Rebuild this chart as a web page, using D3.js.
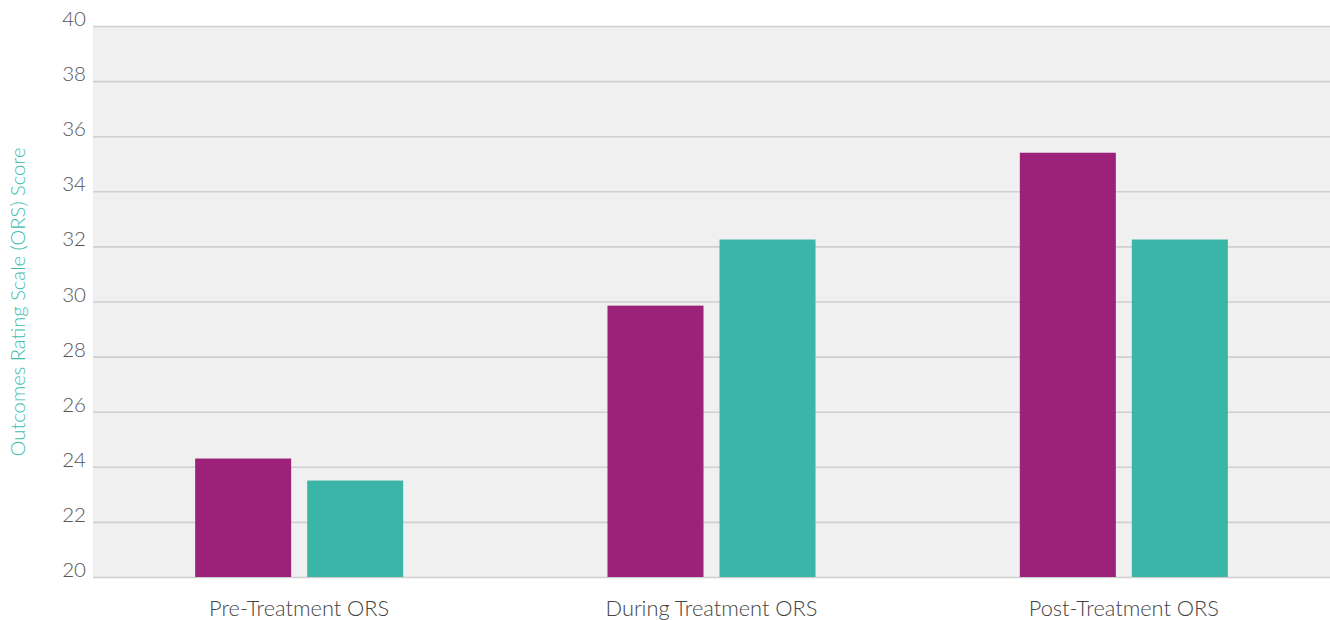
<!DOCTYPE html>
<html>
<head>
<meta charset="utf-8">
<script src="https://cdn.jsdelivr.net/npm/d3@7"></script>
<style>
  html, body { margin: 0; padding: 0; background: #ffffff; }
  svg { display: block; }
</style>
</head>
<body>
<svg id="chart" width="1330" height="620"></svg>
<script>
const categories = ["Pre-Treatment ORS", "During Treatment ORS", "Post-Treatment ORS"];
const seriesNames = ["Series A", "Series B"];
const seriesA = [24.3, 29.85, 35.4];
const seriesB = [23.5, 32.25, 32.25];
const yTicks = [20, 22, 24, 26, 28, 30, 32, 34, 36, 38, 40];
const colors = ["#9c2178", "#3ab5a7"];
const yTitle = "Outcomes Rating Scale (ORS) Score";

const data = categories.map((c, i) => ({ cat: c, values: [seriesA[i], seriesB[i]] }));

const W = 1330, H = 620;
const margin = { left: 93, right: 0, top: 26, bottom: 43 };
const svg = d3.select("#chart");
const fontFam = "Lato, 'Open Sans', sans-serif";

const x0 = d3.scaleBand().domain(categories).range([margin.left, W - margin.right]).paddingInner(0).paddingOuter(0);
const x1 = d3.scaleBand().domain(seriesNames).range([0, x0.bandwidth()]).paddingInner(16 / 112).paddingOuter(0.912);
const y = d3.scaleLinear().domain([20, 40]).range([H - margin.bottom, margin.top]);

// plot background
svg.append("rect")
  .attr("x", margin.left).attr("y", margin.top)
  .attr("width", W - margin.right - margin.left)
  .attr("height", y(20) - margin.top)
  .attr("fill", "#eff0ef");

// gridlines via axis
const yAxis = d3.axisLeft(y).tickValues(yTicks).tickSize(-(W - margin.right - margin.left)).tickPadding(7).tickFormat(d3.format("d"));
const gy = svg.append("g").attr("transform", `translate(${margin.left},0)`).call(yAxis);
gy.select(".domain").remove();
gy.selectAll(".tick line").attr("stroke", "#cfcfcf").attr("stroke-width", 1.6);
gy.selectAll(".tick text")
  .attr("fill", "#555555")
  .attr("font-family", fontFam)
  .attr("font-weight", 300)
  .attr("font-size", 20.5)
  .attr("dy", "-0.02em")
  .attr("x", -7);

// bars
const groups = svg.append("g").selectAll("g").data(data).join("g")
  .attr("transform", d => `translate(${x0(d.cat)},0)`);
groups.selectAll("rect").data(d => d.values.map((v, i) => ({ key: seriesNames[i], v, i })))
  .join("rect")
  .attr("x", d => x1(d.key))
  .attr("width", x1.bandwidth())
  .attr("y", d => y(d.v))
  .attr("height", d => y(20) - y(d.v))
  .attr("fill", d => colors[d.i]);

// x axis labels
const xAxis = d3.axisBottom(x0).tickSize(0).tickPadding(0);
const gx = svg.append("g").attr("transform", `translate(0,${y(20)})`).call(xAxis);
gx.select(".domain").remove();
gx.selectAll(".tick text")
  .attr("fill", "#444444")
  .attr("font-family", fontFam)
  .attr("font-weight", 300)
  .attr("font-size", 21.8)
  .attr("y", 39)
  .attr("dy", 0);

// y title
svg.append("text")
  .attr("transform", `translate(25,${(148 + 456) / 2}) rotate(-90)`)
  .attr("text-anchor", "middle")
  .attr("fill", "#3dbdae")
  .attr("font-family", fontFam)
  .attr("font-weight", 300)
  .attr("font-size", 20.2)
  .text(yTitle);
</script>
</body>
</html>
